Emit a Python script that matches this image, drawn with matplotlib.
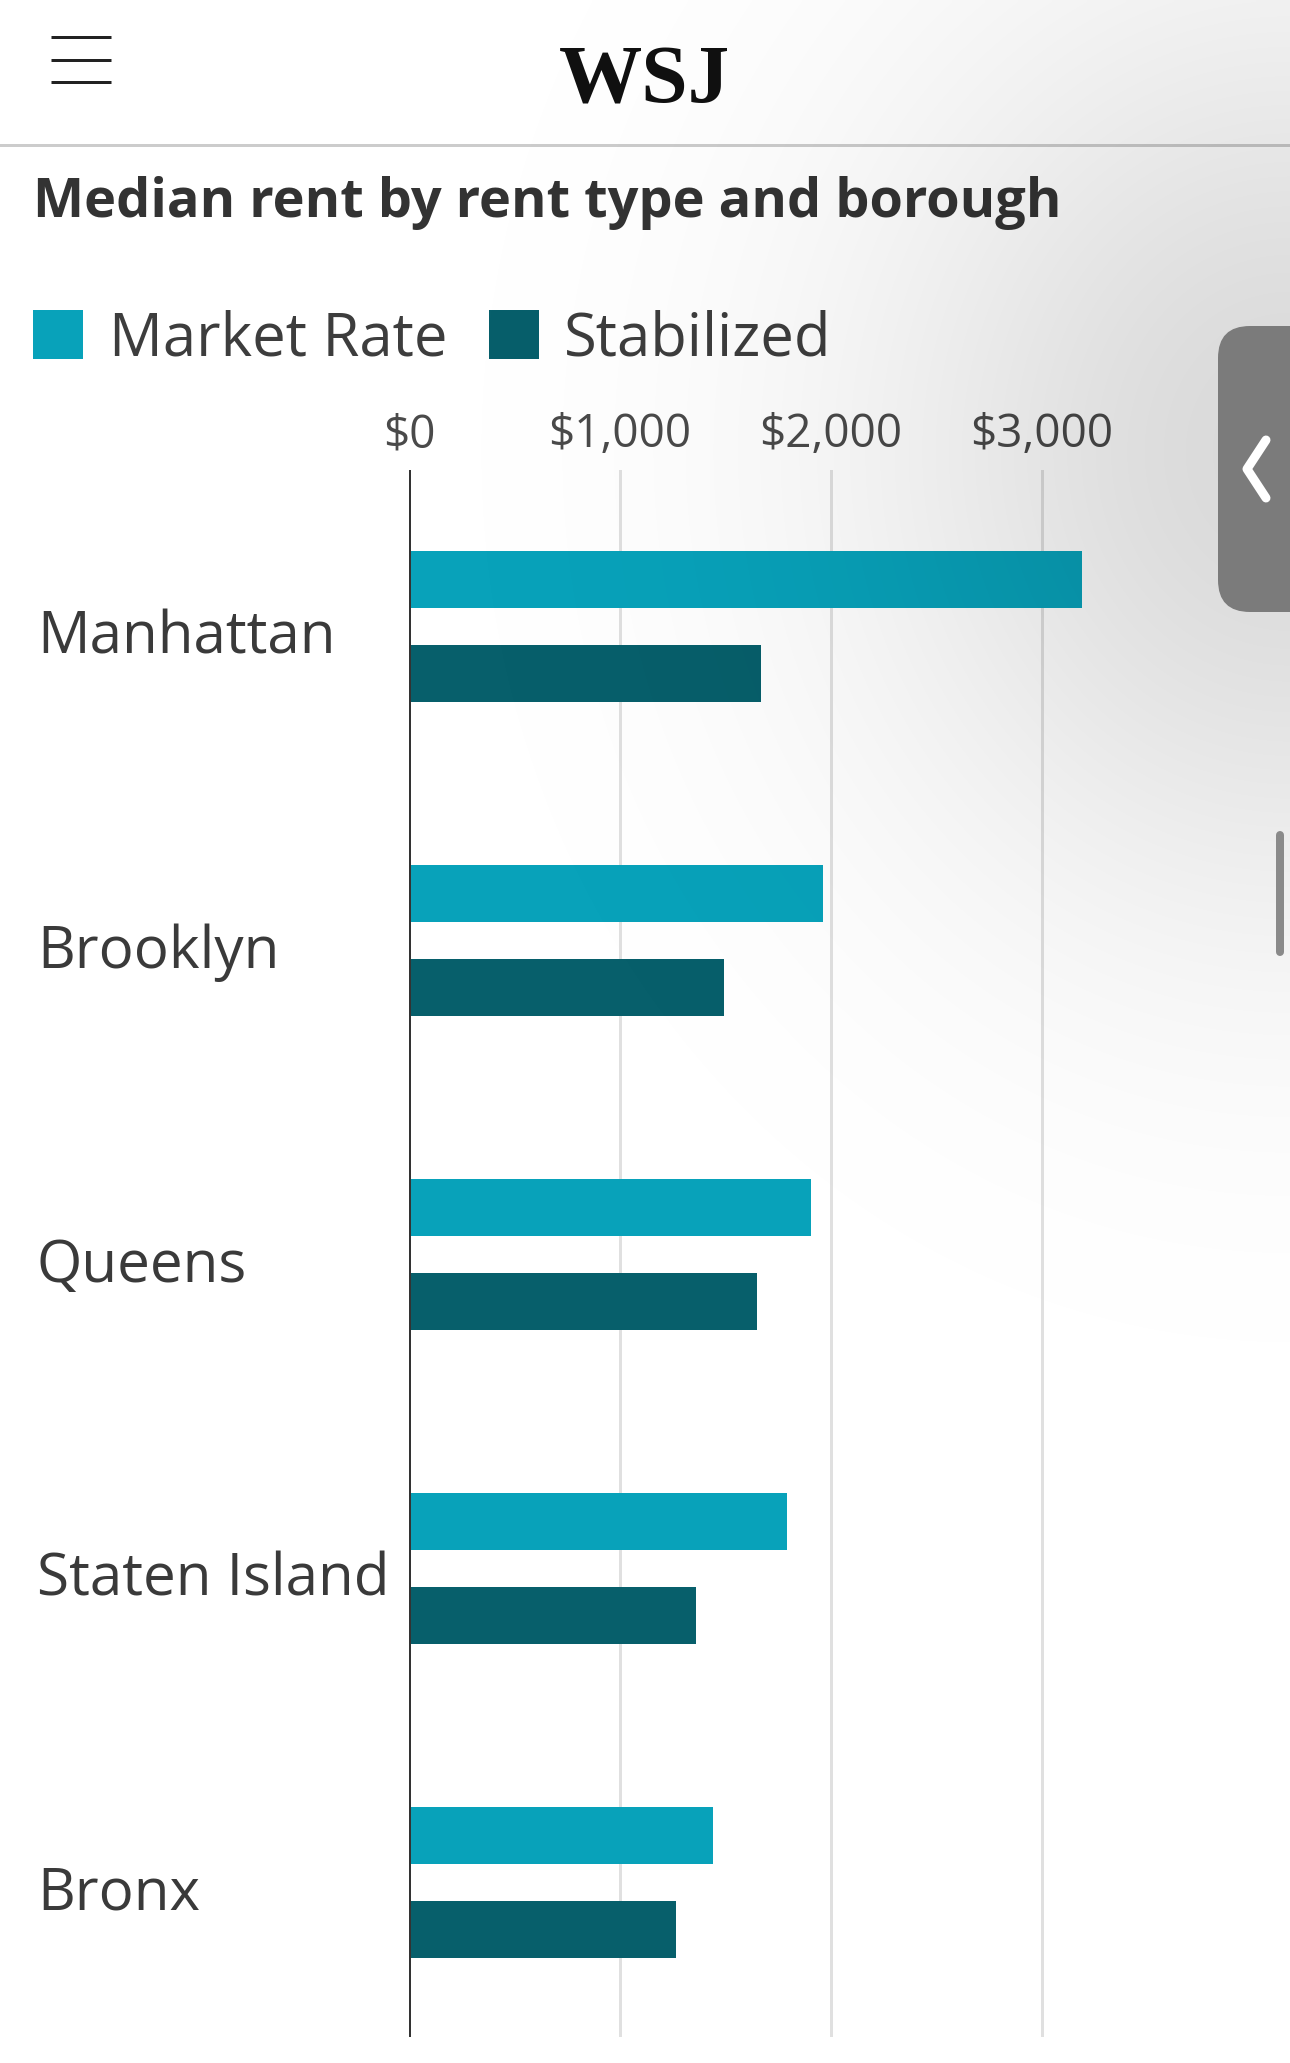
import numpy as np
import matplotlib
matplotlib.use("Agg")
import matplotlib.pyplot as plt
from matplotlib.patches import Rectangle, FancyBboxPatch
from matplotlib.lines import Line2D
from matplotlib.transforms import Affine2D, ScaledTranslation, blended_transform_factory
from matplotlib import font_manager as fm

# ---------------- data ----------------
title = "Median rent by rent type and borough"
boroughs = ["Manhattan", "Brooklyn", "Queens", "Staten Island", "Bronx"]
series_names = ["Market Rate", "Stabilized"]
market_rate = [3190, 1960, 1905, 1790, 1440]
stabilized = [1670, 1495, 1650, 1360, 1265]
xticks = [0, 1000, 2000, 3000]
xtick_labels = ["$0", "$1,000", "$2,000", "$3,000"]

# ---------------- setup ----------------
W, H = 1290, 2063
DPI = 100
PT = 72 / DPI  # pixels -> points
FONT = "Open Sans"
C_MR = "#08a2ba"
C_ST = "#075f6b"

names = {f.name for f in fm.fontManager.ttflist}
def pick(cands, default):
    for c in cands:
        if c in names:
            return c
    return default
LOGO_FONT = pick(["DejaVu Serif Condensed", "Liberation Serif", "DejaVu Serif"], "serif")

fig = plt.figure(figsize=(W / DPI, H / DPI), dpi=DPI, facecolor="white")
# pixel transform (origin top-left)
PX = Affine2D().scale(1 / W, -1 / H).translate(0, 1) + fig.transFigure

def fx(x):
    return x / W

def fy(y):
    return 1 - y / H

# ---------------- header ----------------
for yy in (37, 60, 82):
    fig.add_artist(Line2D([51, 111], [yy, yy], transform=PX, color="#222222",
                          lw=3 * PT, solid_capstyle="butt", zorder=3))
fig.text(645, 102, "WSJ", transform=PX, ha="center", va="baseline",
         family=LOGO_FONT, fontweight="bold", fontsize=60, color="#111111", zorder=3)
fig.add_artist(Line2D([0, W], [145, 145], transform=PX, color="#cccccc",
                      lw=3 * PT, zorder=3))

# ---------------- title ----------------
fig.text(33, 217, title, transform=PX, ha="left", va="baseline", family=FONT,
         fontweight="bold", fontsize=39, color="#333333", zorder=3)

# ---------------- legend ----------------
leg = [(33, 109, C_MR), (489, 564, C_ST)]
for (sx, tx, col), name in zip(leg, series_names):
    fig.add_artist(Rectangle((sx, 310), 50, 49, transform=PX, facecolor=col,
                             edgecolor="none", zorder=3))
    fig.text(tx, 355, name, transform=PX, ha="left", va="baseline", family=FONT,
             fontsize=43, color="#3d3d3d", zorder=3)

# ---------------- chart ----------------
x0px, x1px = 409, 1250
y0px, y1px = 470, 2037
px_per_dollar = 211 / 1000
pitch = 314
gc0 = 626
ax = fig.add_axes([fx(x0px), fy(y1px), (x1px - x0px) / W, (y1px - y0px) / H], zorder=1)
ax.set_facecolor("none")
ax.set_xlim(0, (x1px - x0px) / px_per_dollar)
ax.set_ylim((y1px - gc0) / pitch, (y0px - gc0) / pitch)

idx = np.arange(len(boroughs))
off = 47 / pitch
bh = 57 / pitch
ax.barh(idx - off, market_rate, height=bh, color=C_MR, zorder=3)
ax.barh(idx + off, stabilized, height=bh, color=C_ST, zorder=3)
ax.axvline(0, color="#333333", lw=4 * PT, zorder=4)

for s in ax.spines.values():
    s.set_visible(False)
ax.set_xticks(xticks)
ax.xaxis.grid(True, color="#e0e0e0", lw=3 * PT, zorder=0)
ax.set_axisbelow(True)
ax.xaxis.tick_top()
ax.set_xticklabels(xtick_labels, family=FONT, fontsize=33, color="#4a4a4a")
ax.tick_params(axis="x", length=0, pad=8.5)
ax.set_yticks([])

# borough labels: left-aligned at x = 37 px, baseline 28 px below group centre
lab_tr = blended_transform_factory(ax.transAxes, ax.transData) + \
    ScaledTranslation(0, -28 / DPI, fig.dpi_scale_trans)
lab_x = (37 - x0px) / (x1px - x0px)
for i, name in zip(idx, boroughs):
    ax.text(lab_x, i, name, transform=lab_tr, ha="left", va="baseline", family=FONT,
            fontsize=42, color="#3a3a3a", clip_on=False)

# ---------------- screen shading overlay ----------------
step = 4
gy, gx = np.mgrid[0:H:step, 0:W:step].astype(np.float32)
shade = 0.15 * np.exp(-(((gx - 1290) ** 2) / (2 * 300 ** 2) + ((gy - 450) ** 2) / (2 * 330 ** 2)))
rgba = np.zeros(shade.shape + (4,), dtype=np.float32)
rgba[..., 3] = shade
ov = fig.add_axes([0, 0, 1, 1], zorder=5)
ov.imshow(rgba, extent=(0, W, H, 0), aspect="auto", interpolation="bilinear")
ov.set_xlim(0, W)
ov.set_ylim(H, 0)
ov.axis("off")

# ---------------- side tab & scrollbar ----------------
fig.add_artist(FancyBboxPatch((1218, 326), 140, 286, transform=PX,
                              boxstyle="round,pad=0,rounding_size=32",
                              facecolor="#7b7b7b", edgecolor="none", zorder=10))
fig.add_artist(Line2D([1266, 1247, 1266], [440, 469, 498], transform=PX, color="white",
                      lw=9 * PT, solid_capstyle="round", solid_joinstyle="round", zorder=11))
fig.add_artist(Line2D([1280, 1280], [835, 952], transform=PX, color="#8a8a8a",
                      lw=8 * PT, solid_capstyle="round", zorder=10))

fig.savefig("out.png", dpi=DPI, facecolor="white")
